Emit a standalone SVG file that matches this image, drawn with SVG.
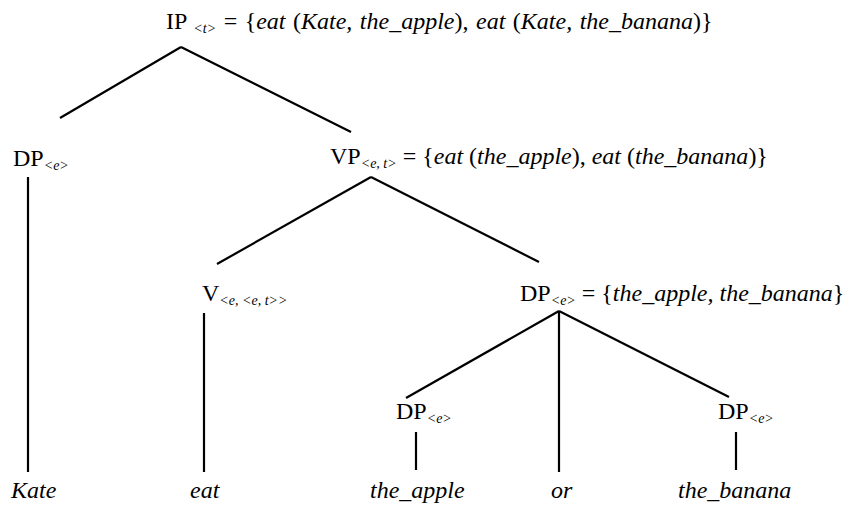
<svg xmlns="http://www.w3.org/2000/svg" width="854" height="507" viewBox="0 0 854 507">
<style>
text{font-family:"Liberation Serif","Times New Roman",serif;font-size:24px;fill:#000}
.i{font-style:italic}
.s{font-size:14px;font-style:italic}
.w{font-style:italic}
#edges line{stroke:#000;stroke-width:2.2;stroke-linecap:butt}
</style>
<rect width="854" height="507" fill="#fff"/>
<g id="edges">
<line x1="181" y1="47" x2="60" y2="118"/>
<line x1="181" y1="47" x2="351" y2="132"/>
<line x1="28" y1="177" x2="28" y2="472"/>
<line x1="371" y1="177" x2="217" y2="264"/>
<line x1="371" y1="177" x2="539" y2="262"/>
<line x1="204" y1="313" x2="204" y2="472"/>
<line x1="559" y1="311" x2="406" y2="398"/>
<line x1="559" y1="311" x2="729" y2="397"/>
<line x1="559" y1="311" x2="559" y2="472"/>
<line x1="416" y1="432" x2="416" y2="470"/>
<line x1="736" y1="432" x2="736" y2="470"/>
</g>
<g id="ip"><text x="166" y="29" word-spacing="1.5">IP<tspan class="s" dx="6" dy="4">&lt;t&gt;</tspan><tspan dy="-4"> = {</tspan><tspan class="i">eat</tspan> (<tspan class="i">Kate, the_apple</tspan>), <tspan class="i">eat</tspan> (<tspan class="i">Kate, the_banana</tspan>)}</text></g>
<g id="dp1"><text x="13" y="166">DP<tspan class="s" dy="4">&lt;e&gt;</tspan></text></g>
<g id="vp"><text x="330" y="164">VP<tspan class="s" dy="4">&lt;e, t&gt;</tspan><tspan dy="-4"> = {</tspan><tspan class="i">eat</tspan> (<tspan class="i">the_apple</tspan>), <tspan class="i">eat</tspan> (<tspan class="i">the_banana</tspan>)}</text></g>
<g id="v"><text x="202" y="301">V<tspan class="s" dy="4">&lt;e, &lt;e, t&gt;&gt;</tspan></text></g>
<g id="dp2"><text x="520" y="301">DP<tspan class="s" dy="4">&lt;e&gt;</tspan><tspan dy="-4"> = {</tspan><tspan class="i">the_apple, the_banana</tspan>}</text></g>
<g id="dp3"><text x="396" y="419">DP<tspan class="s" dy="4">&lt;e&gt;</tspan></text></g>
<g id="dp4"><text x="718" y="419">DP<tspan class="s" dy="4">&lt;e&gt;</tspan></text></g>
<g id="kate"><text class="w" x="11" y="498">Kate</text></g>
<g id="eat"><text class="w" x="190" y="498">eat</text></g>
<g id="apple"><text class="w" x="370" y="498">the_apple</text></g>
<g id="or"><text class="w" x="551" y="498">or</text></g>
<g id="banana"><text class="w" x="678" y="498">the_banana</text></g>
</svg>
